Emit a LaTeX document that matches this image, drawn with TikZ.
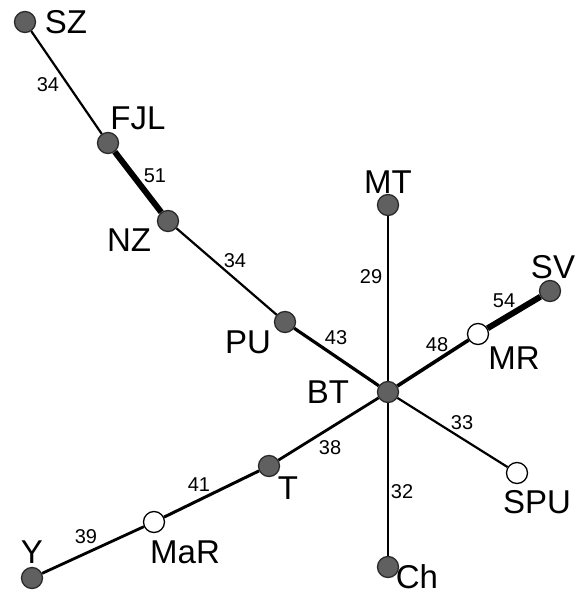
\documentclass[tikz,border=0pt]{standalone}
\usepackage{fontspec}
\setmainfont{Liberation Sans}
\usetikzlibrary{backgrounds}
\definecolor{nodegray}{HTML}{606060}
\definecolor{nodeline}{HTML}{2A2A2A}
\begin{document}
\begin{tikzpicture}[x=1pt,y=-1pt,
  dark/.style={circle,fill=nodegray,draw=nodeline,line width=1.3pt,minimum size=21pt,inner sep=0pt},
  light/.style={circle,fill=white,draw=black,line width=1.3pt,minimum size=21pt,inner sep=0pt},
  lbl/.style={font=\fontsize{33}{33}\selectfont,inner sep=0pt,anchor=center},
  num/.style={font=\fontsize{20}{20}\selectfont,inner sep=0pt,anchor=center},
  edge/.style={draw=black,line cap=butt}]
\useasboundingbox (0,0) rectangle (581,597);
% vertices
\node[dark]  (SZ)  at (25,22) {};
\node[dark]  (FJL) at (108,143) {};
\node[dark]  (NZ)  at (168,221) {};
\node[dark]  (PU)  at (285,322) {};
\node[dark]  (BT)  at (388,392) {};
\node[dark]  (MT)  at (388,205) {};
\node[dark]  (SV)  at (550,291) {};
\node[light] (MR)  at (478,334) {};
\node[light] (SPU) at (517,473) {};
\node[dark]  (Ch)  at (388,567) {};
\node[dark]  (T)   at (269,466) {};
\node[light] (MaR) at (154,522) {};
\node[dark]  (Y)   at (32,578) {};
% edges
\begin{scope}[on background layer]
\draw[edge,line width=2.2pt] (SZ) -- (FJL);
\draw[edge,line width=6pt]   (FJL) -- (NZ);
\draw[edge,line width=2.2pt] (NZ) -- (PU);
\draw[edge,line width=3.2pt] (PU) -- (BT);
\draw[edge,line width=1.6pt] (MT) -- (BT);
\draw[edge,line width=3.6pt] (BT) -- (MR);
\draw[edge,line width=6pt]   (MR) -- (SV);
\draw[edge,line width=2.2pt] (BT) -- (SPU);
\draw[edge,line width=2.4pt] (BT) -- (Ch);
\draw[edge,line width=2.8pt] (BT) -- (T);
\draw[edge,line width=3pt]   (T) -- (MaR);
\draw[edge,line width=2.8pt] (MaR) -- (Y);
\end{scope}
% vertex labels
\node[lbl] (lSZ)  at (66,22)   {SZ};
\node[lbl] (lFJL) at (138,118) {FJL};
\node[lbl] (lNZ)  at (129,240) {NZ};
\node[lbl] (lPU)  at (248,342) {PU};
\node[lbl] (lBT)  at (328,392) {BT};
\node[lbl] (lMT)  at (388,182) {MT};
\node[lbl] (lSV)  at (553,267) {SV};
\node[lbl] (lMR)  at (514,358) {MR};
\node[lbl] (lSPU) at (537,502) {SPU};
\node[lbl] (lCh)  at (417,577) {Ch};
\node[lbl] (lT)   at (288,488) {T};
\node[lbl] (lMaR) at (185,552) {MaR};
\node[lbl] (lY)   at (32,552)  {Y};
% edge weights
\node[num] (w1)  at (48,85)   {34};
\node[num] (w2)  at (155,176) {51};
\node[num] (w3)  at (235,261) {34};
\node[num] (w4)  at (336,338) {43};
\node[num] (w5)  at (371,277) {29};
\node[num] (w6)  at (504,301) {54};
\node[num] (w7)  at (437,345) {48};
\node[num] (w8)  at (462,423) {33};
\node[num] (w9)  at (330,448) {38};
\node[num] (w10) at (402,492) {32};
\node[num] (w11) at (199,485) {41};
\node[num] (w12) at (86,537)  {39};
\end{tikzpicture}
\end{document}
